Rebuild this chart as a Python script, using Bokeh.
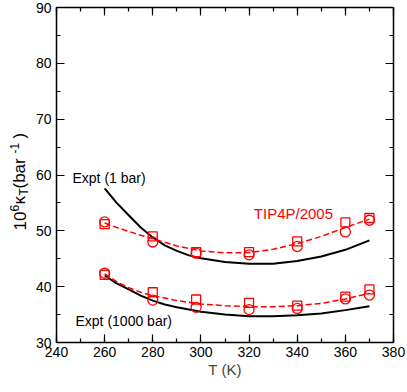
import math
from bokeh.plotting import figure
from bokeh.layouts import row
from bokeh.models import LinearAxis, Label, Range1d, SingleIntervalTicker, CustomJSTickFormatter
from bokeh.embed import file_html
from bokeh.resources import INLINE

# --- data ---
T_pts = [260, 280, 298, 320, 340, 360, 370]
k1_circle = [51.6, 48.0, 46.0, 45.7, 47.2, 49.8, 51.9]
k1_square = [51.2, 49.0, 46.2, 46.2, 48.1, 51.5, 52.3]
k1000_circle = [42.4, 37.6, 36.3, 35.9, 36.1, 37.8, 38.5]
k1000_square = [42.1, 39.0, 37.7, 37.1, 36.6, 38.2, 39.5]

T_fit = [260, 265, 270, 275, 280, 290, 300, 310, 320, 330, 340, 350, 360, 370]
k1_fit = [51.4, 50.6, 49.9, 49.2, 48.6, 47.3, 46.4, 46.05, 46.1, 46.7, 47.7, 49.0, 50.6, 52.1]
k1000_fit = [42.3, 40.9, 39.8, 39.0, 38.4, 37.5, 36.9, 36.6, 36.4, 36.4, 36.6, 37.0, 37.8, 38.8]

T_expt = [260, 265, 270, 275, 280, 285, 290, 295, 300, 310, 320, 330, 340, 350, 360, 370]
k1_expt = [57.6, 55.0, 52.8, 50.6, 48.8, 47.4, 46.4, 45.6, 45.1, 44.4, 44.1, 44.1, 44.6, 45.4, 46.6, 48.3]
k1000_expt = [42.0, 40.6, 39.5, 38.4, 37.5, 36.8, 36.3, 35.9, 35.5, 35.0, 34.7, 34.7, 34.9, 35.2, 35.8, 36.5]

x_ticks_interval = 20
y_ticks_interval = 10

FONT = "Liberation Sans"
RED = "#ff0000"
W, H = 407, 392
LABEL_W = 30
FRAME_TOP, FRAME_BOTTOM = 7, 342

p = figure(width=W - LABEL_W, height=H, x_range=Range1d(240, 380), y_range=Range1d(30, 90),
           output_backend="svg", toolbar_location=None,
           min_border_left=56 - LABEL_W, min_border_right=14,
           min_border_top=FRAME_TOP, min_border_bottom=H - FRAME_BOTTOM)
p.grid.visible = False
p.outline_line_color = None

# experimental curves
p.line(T_expt, k1_expt, line_color="black", line_width=2)
p.line(T_expt, k1000_expt, line_color="black", line_width=2)

# TIP4P/2005 fits
p.line(T_fit, k1_fit, line_color=RED, line_width=1.5, line_dash="6 3")
p.line(T_fit, k1000_fit, line_color=RED, line_width=1.5, line_dash="6 3")

# simulation points
for ys in (k1_circle, k1000_circle):
    p.scatter(T_pts, ys, marker="circle", size=10, fill_color=None, line_color=RED, line_width=1.3)
for ys in (k1_square, k1000_square):
    p.scatter(T_pts, ys, marker="square", size=9, fill_color=None, line_color=RED, line_width=1.3)

def style_axis(ax, ticker, labels=True):
    ax.ticker = ticker
    ax.axis_line_color = "black"
    ax.axis_line_width = 1.5
    ax.major_tick_in = 8
    ax.major_tick_out = 0
    ax.minor_tick_in = 4
    ax.minor_tick_out = 0
    ax.major_tick_line_color = "black"
    ax.minor_tick_line_color = "black"
    ax.major_tick_line_width = 1.2
    ax.minor_tick_line_width = 1.2
    ax.major_label_text_font = FONT
    ax.major_label_text_color = "black"
    ax.major_label_text_font_size = "14px"
    if not labels:
        ax.formatter = CustomJSTickFormatter(code="return ''")
        ax.major_label_standoff = 0

xa = p.xaxis[0]
style_axis(xa, SingleIntervalTicker(interval=x_ticks_interval, num_minor_ticks=2))
xa.major_label_standoff = 4
xa.axis_label = "T (K)"
xa.axis_label_text_font = FONT
xa.axis_label_text_font_style = "normal"
xa.axis_label_text_font_size = "15px"
xa.axis_label_standoff = 1

ya = p.yaxis[0]
style_axis(ya, SingleIntervalTicker(interval=y_ticks_interval, num_minor_ticks=2))
ya.major_label_standoff = 5

top = LinearAxis()
style_axis(top, SingleIntervalTicker(interval=x_ticks_interval, num_minor_ticks=2), labels=False)
p.add_layout(top, "above")
right = LinearAxis()
style_axis(right, SingleIntervalTicker(interval=y_ticks_interval, num_minor_ticks=2), labels=False)
p.add_layout(right, "right")

# curve annotations (positions converted from page pixels)
def T_of(px):
    return 240 + (px - 56) / (337 / 140)

def v_of(py):
    return 30 + (FRAME_BOTTOM - py) / ((FRAME_BOTTOM - FRAME_TOP) / 60)

p.add_layout(Label(x=T_of(72), y=v_of(177.7), text="Expt (1 bar)", text_font=FONT,
                   text_font_size="14px", text_color="black", text_baseline="middle"))
p.add_layout(Label(x=T_of(75), y=v_of(320), text="Expt (1000 bar)", text_font=FONT,
                   text_font_size="14px", text_color="black", text_baseline="middle"))
p.add_layout(Label(x=T_of(253.3), y=v_of(213.3), text="TIP4P/2005", text_font=FONT,
                   text_font_size="15px", text_color=RED, text_baseline="middle"))

# y-axis title in a narrow side panel (its frame is aligned with the main frame),
# composed of rotated pieces; y value = H - page_y
lab = figure(width=LABEL_W, height=H, x_range=Range1d(0, LABEL_W),
             y_range=Range1d(H - FRAME_BOTTOM, H - FRAME_TOP),
             output_backend="svg", toolbar_location=None, x_axis_location=None, y_axis_location=None,
             min_border_left=0, min_border_right=0,
             min_border_top=FRAME_TOP, min_border_bottom=H - FRAME_BOTTOM)
lab.grid.visible = False
lab.outline_line_color = None

pieces = [
    ("10", 19.0, 230, "17px"),
    ("6", 14.0, 211, "12px"),
    ("κ", 19.0, 204, "17px"),
    ("T", 23.0, 195, "12px"),
    ("(bar", 19.0, 188, "17px"),
    ("-1", 14.0, 153, "12px"),
    (")", 19.0, 138, "17px"),
]
for txt, cx, sy, fs in pieces:
    lab.add_layout(Label(x=cx, y=H - sy, text=txt, angle=math.pi / 2,
                         text_font=FONT, text_font_size=fs, text_color="black",
                         text_align="left", text_baseline="middle"))

layout = row(lab, p, spacing=0)
open("out.html", "w").write(file_html(layout, INLINE))
